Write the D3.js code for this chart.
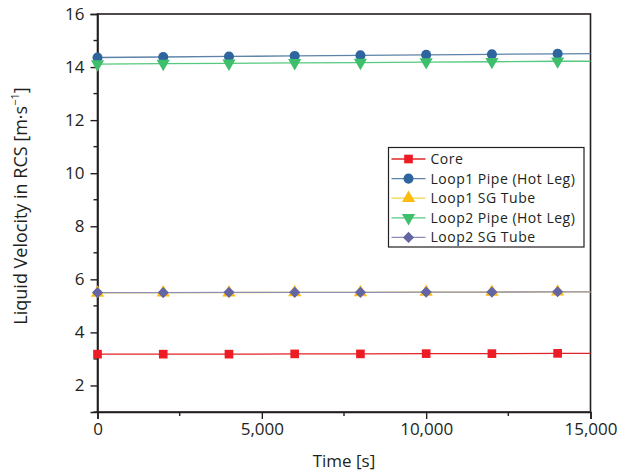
<!doctype html>
<html lang="en">
  <head>
    <meta charset="utf-8">
    <script src="https://cdn.jsdelivr.net/npm/d3@7/dist/d3.min.js"></script>
    <style>
      body {margin:0; background:#fff; font-family:'Open Sans', sans-serif}
      svg text {fill:#231f20}
    </style>
    <title>Liquid Velocity in RCS</title>
  </head>
  <body>
    <script>
      // time points [s]; markers only every 2000 s, line runs to 15000
      const times = [0, 2000, 4000, 6000, 8000, 10000, 12000, 14000, 15000];
      const core      = [3.18, 3.18, 3.18, 3.19, 3.19, 3.20, 3.20, 3.21, 3.21];
      const loop1Pipe = [14.36, 14.38, 14.40, 14.42, 14.44, 14.46, 14.48, 14.50, 14.51];
      const loop1SG   = [5.49, 5.50, 5.50, 5.51, 5.51, 5.52, 5.52, 5.53, 5.53];
      const loop2Pipe = [14.11, 14.13, 14.14, 14.16, 14.17, 14.19, 14.20, 14.22, 14.22];
      const loop2SG   = [5.50, 5.50, 5.51, 5.51, 5.51, 5.52, 5.52, 5.53, 5.53];

      const xTicks = [0, 5000, 10000, 15000];
      const yTicks = [2, 4, 6, 8, 10, 12, 14, 16];

      const seriesNames = ["Core", "Loop1 Pipe (Hot Leg)", "Loop1 SG Tube", "Loop2 Pipe (Hot Leg)", "Loop2 SG Tube"];
      const seriesVals = [core, loop1Pipe, loop1SG, loop2Pipe, loop2SG];
      const lineColors = ["#e0242a", "#5d83a9", "#f5d442", "#55c97e", "#8e8eb8"];
      const markColors = ["#ed1c24", "#2e659f", "#fdbb10", "#3dbf6b", "#6465a3"];
      const symbols = ["square", "circle", "up", "down", "diamond"];

      let margin = {top:14, left:97.5, right:33.5, bottom:64};
      let w = 624 - margin.left - margin.right;
      let h = 476 - margin.top - margin.bottom;

      let x = d3.scaleLinear().domain([0, 15000]).range([0, w]);
      let y = d3.scaleLinear().domain([1, 16]).range([h, 0]);

      let svg = d3.select("body").append("svg")
        .attr("width", 624).attr("height", 476);
      let g = svg.append("g")
        .attr("transform", "translate(" + margin.left + "," + margin.top + ")");

      // box
      g.append("rect").attr("width", w).attr("height", h)
        .attr("fill", "none").attr("stroke", "#231f20").attr("stroke-width", 1.6);

      // minor ticks
      let yMinor = d3.range(1, 16, 2);
      g.append("g").selectAll("line").data(yMinor).enter().append("line")
        .attr("x1", -4).attr("x2", 0).attr("y1", d => y(d)).attr("y2", d => y(d))
        .attr("stroke", "#231f20").attr("stroke-width", 1.4);
      let xMinor = [2500, 7500, 12500];
      g.append("g").selectAll("line").data(xMinor).enter().append("line")
        .attr("y1", h).attr("y2", h + 4).attr("x1", d => x(d)).attr("x2", d => x(d))
        .attr("stroke", "#231f20").attr("stroke-width", 1.4);

      let xAxis = d3.axisBottom(x).tickValues(xTicks).tickFormat(d3.format(",")).tickSize(7).tickPadding(4);
      let yAxis = d3.axisLeft(y).tickValues(yTicks).tickSize(7).tickPadding(6);

      let xg = g.append("g").attr("transform", "translate(0," + h + ")").call(xAxis);
      let yg = g.append("g").call(yAxis);
      [xg, yg].forEach(a => {
        a.select(".domain").attr("stroke", "#231f20").attr("stroke-width", 1.6);
        a.selectAll(".tick line").attr("stroke", "#231f20").attr("stroke-width", 1.4);
        a.selectAll(".tick text").attr("font-size", "17px").attr("font-family", "'Open Sans', sans-serif").style("fill", "#231f20");
      });

      // marker shapes
      function sym(i) {
        let s = symbols[i];
        if (s === "square") return d3.symbol().type(d3.symbolSquare).size(75)();
        if (s === "circle") return d3.symbol().type(d3.symbolCircle).size(80)();
        if (s === "diamond") return d3.symbol().type(d3.symbolSquare).size(62)();
        return d3.symbol().type(d3.symbolTriangle).size(75)();
      }
      function rot(i) {
        if (symbols[i] === "down") return " rotate(180)";
        if (symbols[i] === "diamond") return " rotate(45)";
        return "";
      }

      let line = d3.line().x((d, j) => x(times[j])).y(d => y(d));
      seriesVals.forEach((vals, i) => {
        g.append("path").datum(vals)
          .attr("d", line).attr("fill", "none")
          .attr("stroke", lineColors[i]).attr("stroke-width", 1.3);
      });
      seriesVals.forEach((vals, i) => {
        g.append("g").selectAll("path")
          .data(vals.filter((d, j) => times[j] % 2000 === 0))
          .enter().append("path")
          .attr("d", sym(i))
          .attr("fill", markColors[i])
          .attr("transform", (d, j) => "translate(" + x(j * 2000) + "," + y(d) + ")" + rot(i));
      });

      // axis titles
      svg.append("text")
        .attr("x", margin.left + w / 2).attr("y", 467)
        .attr("text-anchor", "middle").attr("font-size", "17px")
        .text("Time [s]");

      let yt = svg.append("text")
        .attr("transform", "translate(27," + (margin.top + h / 2 - 7) + ") rotate(-90)")
        .attr("text-anchor", "middle").attr("font-size", "18px");
      yt.append("tspan").text("Liquid Velocity in RCS [m·s");
      yt.append("tspan").attr("font-size", "11px").attr("dy", "-8").text("−1");
      yt.append("tspan").attr("dy", "8").text("]");

      // legend
      let legend = svg.append("g").attr("transform", "translate(388.5,147.5)");
      legend.append("rect").attr("width", 195.5).attr("height", 99.5)
        .attr("fill", "#fff").attr("stroke", "#231f20").attr("stroke-width", 1.2);
      seriesNames.forEach((name, i) => {
        let ly = 11.5 + i * 19.6;
        legend.append("line").attr("x1", 3).attr("x2", 37).attr("y1", ly).attr("y2", ly)
          .attr("stroke", lineColors[i]).attr("stroke-width", 1.3);
        legend.append("path").attr("d", sym(i))
          .attr("fill", markColors[i])
          .attr("transform", "translate(20," + ly + ")" + rot(i));
        legend.append("text").attr("x", 42).attr("y", ly + 5)
          .attr("font-size", "14px").attr("letter-spacing", "0.5px").text(name);
      });
    </script>
  </body>
</html>
